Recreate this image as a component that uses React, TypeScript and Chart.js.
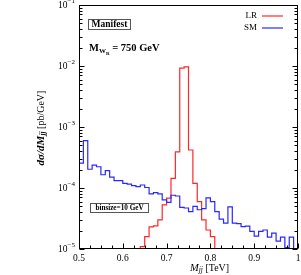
import { useEffect, useRef } from 'react';
import { Chart, registerables } from 'chart.js';

Chart.register(...registerables);

// ---- data ----
const BIN_START = 0.5; // TeV
const BIN_WIDTH = 0.01; // TeV (10 GeV)
// dσ/dM_jj [pb/GeV] per 10 GeV bin, null = below the plotted range
const SM_VALUES: (number | null)[] = [
  2.55e-4, 6.0e-4, 2.03e-4, 2.38e-4, 2.23e-4, 1.65e-4, 1.92e-4, 1.51e-4, 1.32e-4, 1.32e-4,
  1.19e-4, 1.16e-4, 1.09e-4, 1.05e-4, 1.12e-4, 1.02e-4, 8.0e-5, 8.4e-5, 8.0e-5, 6.4e-5,
  5.8e-5, 7.6e-5, 7.4e-5, 4.8e-5, 4.7e-5, 4.1e-5, 5.0e-5, 4.4e-5, 4.6e-5, 6.9e-5,
  6.0e-5, 4.1e-5, 3.1e-5, 2.65e-5, 4.9e-5, 2.65e-5, 2.6e-5, 2.32e-5, 2.38e-5, 1.95e-5,
  1.63e-5, 1.95e-5, 2.05e-5, 1.56e-5, 1.82e-5, 1.35e-5, 1.56e-5, 1.05e-5, 1.56e-5, null,
];
const LR_VALUES: (number | null)[] = [
  null, null, null, null, null, null, null, null, null, null,
  null, null, null, null, 1.09e-5, 1.59e-5, 2.3e-5, 2.4e-5, 3.0e-5, 5.3e-5,
  6.8e-5, 1.44e-4, 3.9e-4, 9.2e-3, 9.7e-3, 4.2e-4, 1.19e-4, 6.0e-5, 3.0e-5, 2.05e-5,
  1.59e-5, null, null, null, null, null, null, null, null, null,
  null, null, null, null, null, null, null, null, null, null,
];
const X_TICKS = [0.5, 0.6, 0.7, 0.8, 0.9, 1.0];
const X_TICK_LABELS = ['0.5', '0.6', '0.7', '0.8', '0.9', '1'];
const Y_DECADES = [-1, -2, -3, -4, -5];
const Y_MIN = 1e-5;
const Y_MAX = 1e-1;
const X_MIN = 0.5;
const X_MAX = 1.0;
const OFF_SCALE = 1e-7;

const RED = 'rgb(255,40,40)';
const BLUE = 'rgb(40,40,255)';
const SERIF = '"Liberation Serif", "DejaVu Serif", serif';

function histPoints(values: (number | null)[]) {
  const pts = values.map((v, i) => ({ x: BIN_START + i * BIN_WIDTH, y: v == null ? OFF_SCALE : v }));
  const last = values[values.length - 1];
  pts.push({ x: BIN_START + values.length * BIN_WIDTH, y: last == null ? OFF_SCALE : last });
  return pts;
}

type Part = { t: string; font: string; dy?: number };
function richWidth(ctx: CanvasRenderingContext2D, parts: Part[]) {
  let w = 0;
  for (const p of parts) {
    ctx.font = p.font;
    w += ctx.measureText(p.t).width;
  }
  return w;
}
function drawRich(ctx: CanvasRenderingContext2D, parts: Part[], x: number, y: number) {
  let cx = x;
  for (const p of parts) {
    ctx.font = p.font;
    ctx.fillText(p.t, cx, y + (p.dy || 0));
    cx += ctx.measureText(p.t).width;
  }
  return cx - x;
}

const decorPlugin = {
  id: 'decor',
  afterDraw(chart: any) {
    const ctx: CanvasRenderingContext2D = chart.ctx;
    const { left, right, top, bottom } = chart.chartArea;
    const xs = chart.scales.x;
    const ys = chart.scales.y;
    ctx.save();
    ctx.strokeStyle = '#000';
    ctx.fillStyle = '#000';
    ctx.lineWidth = 1;
    const L = Math.round(left) + 0.5;
    const R = Math.round(right) - 0.5;
    const T = Math.round(top) + 0.5;
    const B = Math.round(bottom) - 0.5;
    ctx.strokeRect(L, T, R - L, B - T);

    // y ticks (left & right, inward)
    ctx.beginPath();
    for (let d = -5; d <= -1; d++) {
      for (let m = 1; m <= 9; m++) {
        const v = m * Math.pow(10, d);
        if (v < Y_MIN * 0.999 || v > Y_MAX * 1.001) continue;
        const y = Math.round(ys.getPixelForValue(v)) + 0.5;
        const len = m === 1 ? 5 : 3;
        ctx.moveTo(L, y); ctx.lineTo(L + len, y);
        ctx.moveTo(R, y); ctx.lineTo(R - len, y);
      }
    }
    // x ticks (bottom, inward)
    for (let k = 0; k <= 20; k++) {
      const v = X_MIN + k * 0.025;
      const x = Math.round(xs.getPixelForValue(v)) + 0.5;
      const len = k % 4 === 0 ? 5 : 3;
      ctx.moveTo(x, B); ctx.lineTo(x, B - len);
    }
    ctx.stroke();

    // y tick labels 10^k
    ctx.textBaseline = 'middle';
    ctx.textAlign = 'left';
    for (const d of Y_DECADES) {
      const y = ys.getPixelForValue(Math.pow(10, d));
      const parts: Part[] = [
        { t: '10', font: `9.5px ${SERIF}` },
        { t: `\u2212${-d}`, font: `7px ${SERIF}`, dy: -4 },
      ];
      const w = richWidth(ctx, parts);
      drawRich(ctx, parts, 75 - w, y);
    }
    // x tick labels
    ctx.textAlign = 'center';
    ctx.font = `9.5px ${SERIF}`;
    X_TICKS.forEach((v, i) => {
      ctx.fillText(X_TICK_LABELS[i], xs.getPixelForValue(v), 258);
    });

    // x title
    ctx.textAlign = 'left';
    drawRich(ctx, [
      { t: 'M', font: `italic 10.5px ${SERIF}` },
      { t: 'jj', font: `italic 7.5px ${SERIF}`, dy: 2.5 },
      { t: ' [TeV]', font: `10px ${SERIF}` },
    ], 190, 268);

    // y title (rotated)
    ctx.save();
    ctx.translate(41, 128);
    ctx.rotate(-Math.PI / 2);
    const yParts: Part[] = [
      { t: 'd\u03C3/dM', font: `italic bold 11px ${SERIF}` },
      { t: 'jj', font: `italic bold 7.5px ${SERIF}`, dy: 2.5 },
      { t: ' [pb/GeV]', font: `10px ${SERIF}` },
    ];
    const yw = richWidth(ctx, yParts);
    drawRich(ctx, yParts, -yw / 2, 0);
    ctx.restore();

    // legend
    ctx.textAlign = 'right';
    ctx.font = `9px ${SERIF}`;
    ctx.fillText('LR', 257, 16);
    ctx.fillText('SM', 257, 28);
    ctx.lineWidth = 1.2;
    ctx.strokeStyle = RED;
    ctx.beginPath(); ctx.moveTo(262, 16); ctx.lineTo(283, 16); ctx.stroke();
    ctx.strokeStyle = BLUE;
    ctx.beginPath(); ctx.moveTo(262, 28); ctx.lineTo(283, 28); ctx.stroke();

    // "Manifest" box
    ctx.lineWidth = 1;
    ctx.strokeStyle = '#555';
    ctx.strokeRect(88.5, 19.5, 42, 10);
    ctx.textAlign = 'center';
    ctx.font = `bold 9.5px ${SERIF}`;
    ctx.fillText('Manifest', 109.5, 25);

    // M_WR = 750 GeV
    ctx.textAlign = 'left';
    ctx.textBaseline = 'alphabetic';
    drawRich(ctx, [
      { t: 'M', font: `bold 10.5px ${SERIF}` },
      { t: 'W', font: `bold 7px ${SERIF}`, dy: 2 },
      { t: 'R', font: `bold 5px ${SERIF}`, dy: 3.5 },
      { t: ' = 750 GeV', font: `bold 10.5px ${SERIF}` },
    ], 89, 51);

    // binsize box
    ctx.strokeStyle = '#555';
    ctx.strokeRect(90.5, 203.5, 58, 9);
    ctx.textAlign = 'center';
    ctx.textBaseline = 'middle';
    ctx.font = `bold 7.2px ${SERIF}`;
    ctx.fillText('binsize=10 GeV', 119.5, 208.5);

    ctx.restore();
  },
};

export default function App() {
  const ref = useRef<HTMLCanvasElement | null>(null);
  useEffect(() => {
    if (!ref.current) return;
    const chart = new Chart(ref.current, {
      type: 'line',
      data: {
        datasets: [
          {
            label: 'SM',
            data: histPoints(SM_VALUES),
            borderColor: BLUE,
            borderWidth: 1.2,
            stepped: 'before',
            pointRadius: 0,
            fill: false,
            clip: 0,
          },
          {
            label: 'LR',
            data: histPoints(LR_VALUES),
            borderColor: RED,
            borderWidth: 1.2,
            stepped: 'before',
            pointRadius: 0,
            fill: false,
            clip: 0,
          },
        ],
      },
      options: {
        animation: false,
        responsive: true,
        maintainAspectRatio: false,
        layout: { padding: { left: 79, right: 3, top: 5, bottom: 26 } },
        plugins: { legend: { display: false }, tooltip: { enabled: false } },
        scales: {
          x: { type: 'linear', min: X_MIN, max: X_MAX, display: false },
          y: { type: 'logarithmic', min: Y_MIN, max: Y_MAX, display: false },
        },
      },
      plugins: [decorPlugin],
    } as any);
    return () => chart.destroy();
  }, []);
  return (
    <div style={{ position: 'fixed', left: 0, top: 0, width: 301, height: 275, background: '#fff' }}>
      <canvas ref={ref} />
    </div>
  );
}
